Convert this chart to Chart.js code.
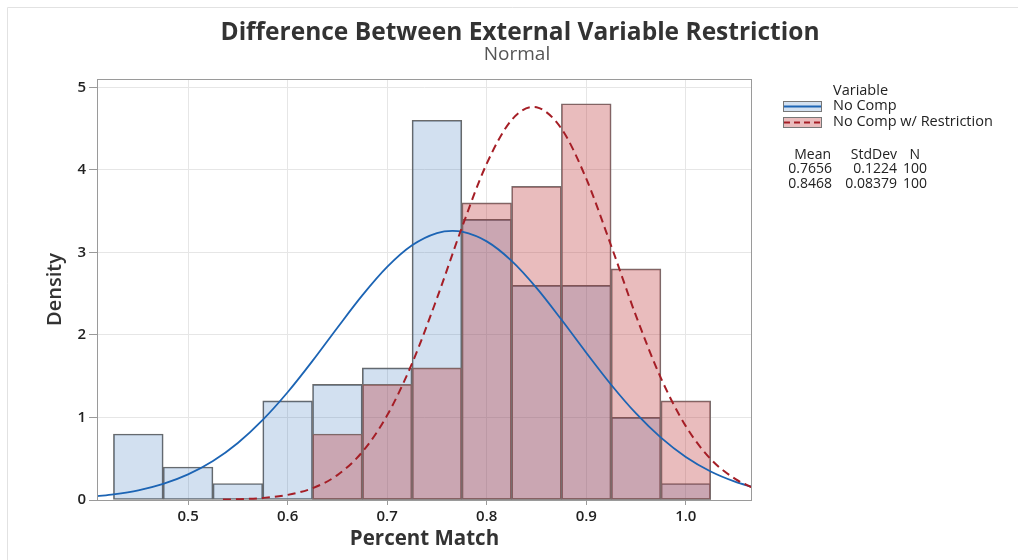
<!DOCTYPE html>
<html>
<head>
<meta charset="utf-8">
<script src="https://cdn.jsdelivr.net/npm/chart.js@4"></script>
<style>
  body { margin: 0; background: #fff; }
  canvas { display: block; }
</style>
</head>
<body>
<canvas id="histChart" width="1018" height="560"></canvas>
<script>
// histogram bins (bin centres, width 0.05)
const binCenters = [0.45, 0.50, 0.55, 0.60, 0.65, 0.70, 0.75, 0.80, 0.85, 0.90, 0.95, 1.00];
const noCompDensity = [0.8, 0.4, 0.2, 1.2, 1.4, 1.6, 4.6, 3.4, 2.6, 2.6, 1.0, 0.2];
const restrictDensity = [null, null, null, null, 0.8, 1.4, 1.6, 3.6, 3.8, 4.8, 2.8, 1.2];

// fitted normal curves
const noCompCurveX = [0.4085, 0.425, 0.45, 0.475, 0.5, 0.525, 0.55, 0.575, 0.6, 0.625, 0.65, 0.675, 0.7, 0.725, 0.75, 0.7656,
    0.775, 0.8, 0.825, 0.85, 0.875, 0.9, 0.925, 0.95, 0.975, 1.0, 1.025, 1.05, 1.0665];
const noCompCurveY = [0.046, 0.068, 0.117, 0.195, 0.310, 0.472, 0.691, 0.970, 1.305, 1.685, 2.087, 2.478, 2.823, 3.085, 3.233, 3.259,
    3.250, 3.133, 2.897, 2.570, 2.186, 1.784, 1.396, 1.048, 0.755, 0.521, 0.345, 0.219, 0.159];
const restrictCurveX = [0.535, 0.55, 0.575, 0.6, 0.625, 0.65, 0.675, 0.7, 0.725, 0.75, 0.775, 0.8, 0.825, 0.8468,
    0.85, 0.875, 0.9, 0.925, 0.95, 0.975, 1.0, 1.025, 1.05, 1.0665];
const restrictCurveY = [0.005, 0.009, 0.025, 0.062, 0.143, 0.302, 0.582, 1.026, 1.655, 2.443, 3.298, 4.074, 4.603, 4.761,
    4.758, 4.499, 3.892, 3.080, 2.230, 1.477, 0.895, 0.496, 0.252, 0.153];

const seriesNames = ['No Comp', 'No Comp w/ Restriction'];
const means = ['0.7656', '0.8468'];
const stdDevs = ['0.1224', '0.08379'];
const counts = ['100', '100'];

const xTicks = [0.5, 0.6, 0.7, 0.8, 0.9, 1.0];
const yTicks = [0, 1, 2, 3, 4, 5];

const FONT = '"Segoe UI", "Open Sans", sans-serif';
const blueLine = '#1c64b4';
const redLine = '#a51e26';
const blueFill = 'rgba(30, 100, 180, 0.2)';
const redFill = 'rgba(184, 39, 42, 0.31)';

function pts(xs, ys) {
    return xs.map((x, i) => ({ x: x, y: ys[i] }));
}

const decorations = {
    id: 'decorations',
    afterDatasetsDraw(chart) {
        const ctx = chart.ctx;
        const a = chart.chartArea;
        ctx.save();
        // plot frame
        ctx.strokeStyle = '#9a9a9a';
        ctx.lineWidth = 1;
        ctx.strokeRect(Math.round(a.left) + 0.5, Math.round(a.top) + 0.5,
            Math.round(a.right - a.left) - 1, Math.round(a.bottom - a.top));
        ctx.restore();
    },
    afterDraw(chart) {
        const ctx = chart.ctx;
        const a = chart.chartArea;
        ctx.save();

        // faint outer border
        ctx.strokeStyle = '#e2e2e2';
        ctx.lineWidth = 1;
        ctx.beginPath();
        ctx.moveTo(7.5, 560);
        ctx.lineTo(7.5, 7.5);
        ctx.lineTo(1018, 7.5);
        ctx.stroke();

        // titles
        ctx.textAlign = 'center';
        ctx.textBaseline = 'middle';
        ctx.fillStyle = '#333';
        ctx.font = 'bold 24.5px ' + FONT;
        ctx.fillText('Difference Between External Variable Restriction', 520, 33);
        ctx.fillStyle = '#555';
        ctx.font = '19px ' + FONT;
        ctx.fillText('Normal', 517, 55);

        // axis titles
        ctx.fillStyle = '#333';
        ctx.font = 'bold 20.5px ' + FONT;
        ctx.fillText('Percent Match', (a.left + a.right) / 2, 539);
        ctx.save();
        ctx.translate(55, (a.top + a.bottom) / 2);
        ctx.rotate(-Math.PI / 2);
        ctx.font = '600 20px ' + FONT;
        ctx.fillText('Density', 0, 0);
        ctx.restore();

        // legend
        ctx.font = '14.5px ' + FONT;
        ctx.fillStyle = '#222';
        ctx.textAlign = 'left';
        ctx.fillText('Variable', 833, 91);
        const rows = [
            { y: 106, fill: blueFill, line: blueLine, dash: [] },
            { y: 122, fill: redFill, line: redLine, dash: [6, 4] }
        ];
        rows.forEach((r, i) => {
            ctx.fillStyle = '#fff';
            ctx.fillRect(783, r.y - 5, 39, 11);
            ctx.fillStyle = r.fill;
            ctx.fillRect(783, r.y - 5, 39, 11);
            ctx.strokeStyle = '#777';
            ctx.lineWidth = 1;
            ctx.setLineDash([]);
            ctx.strokeRect(783.5, r.y - 4.5, 38, 10);
            ctx.strokeStyle = r.line;
            ctx.lineWidth = 1.8;
            ctx.setLineDash(r.dash);
            ctx.beginPath();
            ctx.moveTo(784, r.y + 0.5);
            ctx.lineTo(821, r.y + 0.5);
            ctx.stroke();
            ctx.setLineDash([]);
            ctx.fillStyle = '#222';
            ctx.fillText(seriesNames[i], 833, r.y);
        });

        // stats table
        ctx.font = '14px ' + FONT;
        ctx.textAlign = 'right';
        ctx.fillText('Mean', 831, 155);
        ctx.fillText('StdDev', 897, 155);
        ctx.fillText('N', 920, 155);
        means.forEach((m, i) => {
            const y = 169 + i * 15;
            ctx.textAlign = 'right';
            ctx.fillText(m, 832, y);
            ctx.fillText(stdDevs[i], 897, y);
            ctx.textAlign = 'left';
            ctx.fillText(counts[i], 903, y);
        });
        ctx.restore();
    }
};

new Chart(document.getElementById('histChart'), {
    type: 'bar',
    data: {
        datasets: [
            {
                type: 'line',
                data: pts(restrictCurveX, restrictCurveY),
                borderColor: redLine,
                borderWidth: 2,
                borderDash: [8, 5],
                pointRadius: 0,
                fill: false,
                cubicInterpolationMode: 'monotone',
                order: 1
            },
            {
                type: 'line',
                data: pts(noCompCurveX, noCompCurveY),
                borderColor: blueLine,
                borderWidth: 1.8,
                pointRadius: 0,
                fill: false,
                cubicInterpolationMode: 'monotone',
                order: 2
            },
            {
                data: pts(binCenters, restrictDensity),
                backgroundColor: redFill,
                borderColor: '#7a6e6e',
                borderWidth: 1,
                borderSkipped: false,
                barPercentage: 1,
                categoryPercentage: 1,
                grouped: false,
                order: 3
            },
            {
                data: pts(binCenters, noCompDensity),
                backgroundColor: blueFill,
                borderColor: '#6a6a6a',
                borderWidth: 1,
                borderSkipped: false,
                barPercentage: 1,
                categoryPercentage: 1,
                grouped: false,
                order: 4
            }
        ]
    },
    options: {
        responsive: false,
        animation: false,
        layout: { padding: { top: 79, right: 266, bottom: 0, left: 0 } },
        plugins: {
            legend: { display: false },
            tooltip: { enabled: false }
        },
        scales: {
            x: {
                type: 'linear',
                min: 0.4085,
                max: 1.0665,
                offset: false,
                afterFit: s => { s.height = 60; },
                afterBuildTicks: s => { s.ticks = xTicks.map(v => ({ value: v })); },
                grid: { offset: false, color: '#e6e6e6', tickColor: '#9a9a9a', tickLength: 5 },
                border: { display: false },
                ticks: {
                    padding: 3,
                    color: '#222',
                    font: { family: FONT, size: 15, weight: '600' },
                    callback: v => Number(v).toFixed(1)
                }
            },
            y: {
                min: 0,
                max: 5.1,
                afterFit: s => { s.width = 97; },
                afterBuildTicks: s => { s.ticks = yTicks.map(v => ({ value: v })); },
                grid: { color: '#e6e6e6', tickColor: '#9a9a9a', tickLength: 8 },
                border: { display: false },
                ticks: {
                    padding: 3,
                    color: '#222',
                    font: { family: FONT, size: 15, weight: '600' },
                    callback: v => String(v)
                }
            }
        }
    },
    plugins: [decorations]
});
</script>
</body>
</html>
